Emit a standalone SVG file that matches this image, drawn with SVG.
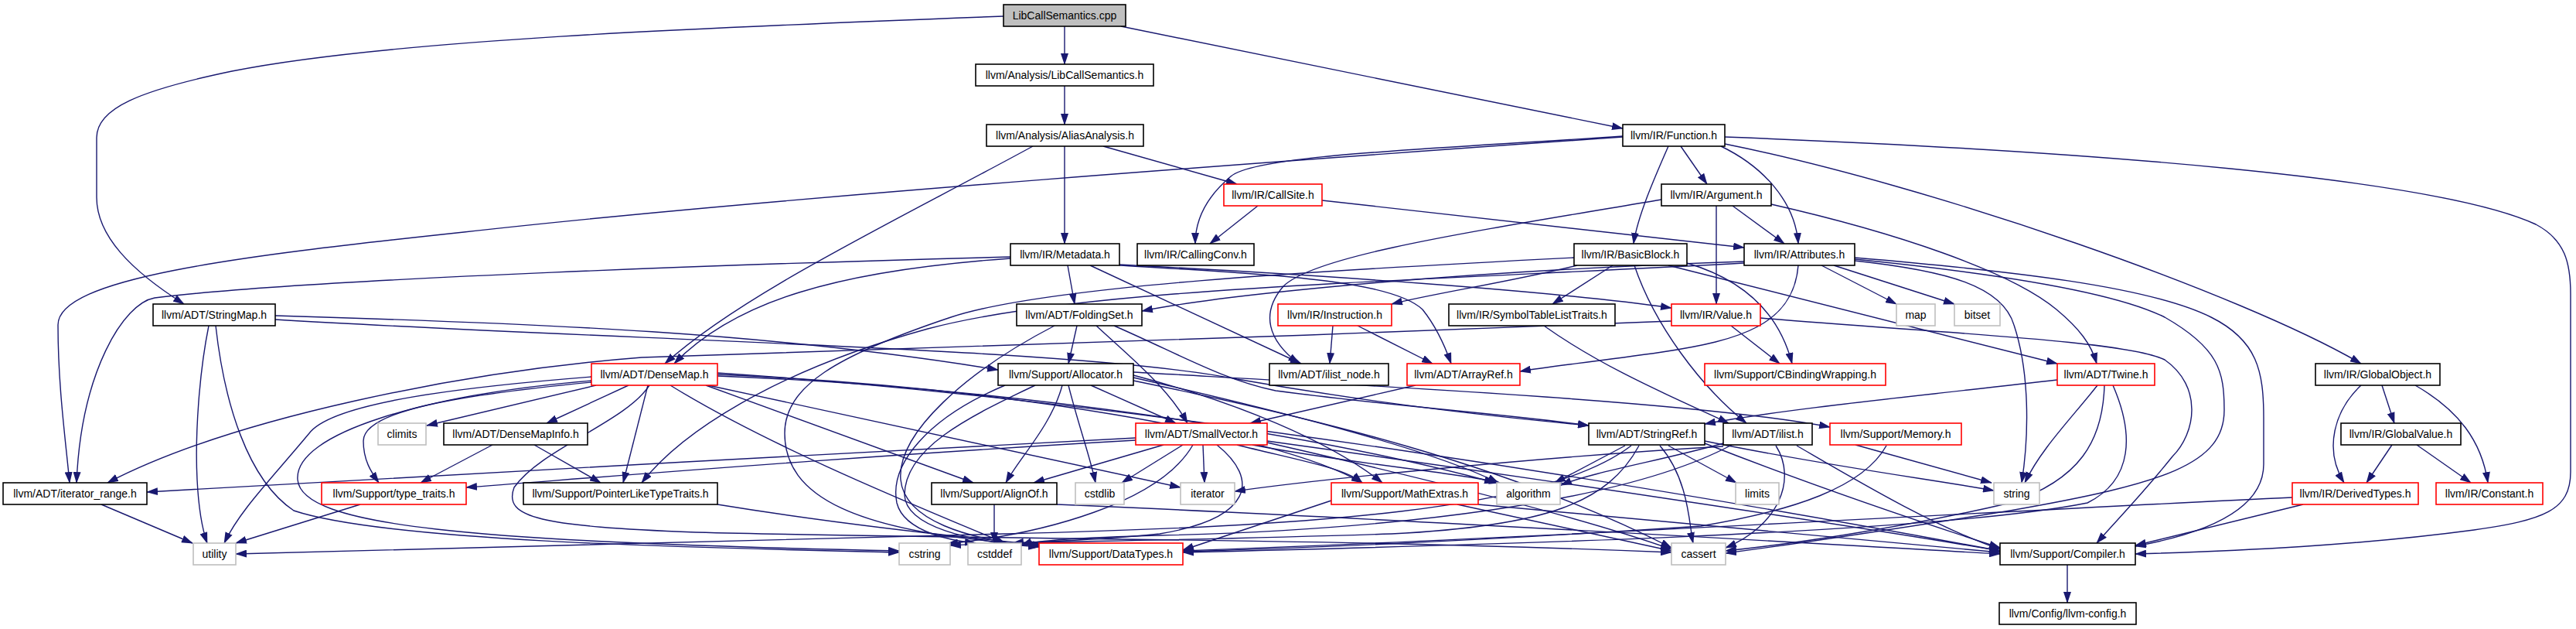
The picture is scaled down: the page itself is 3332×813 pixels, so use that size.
<svg xmlns="http://www.w3.org/2000/svg" width="3332" height="813" viewBox="0 0 3332 813">
<style>
.n rect{fill:#fff;stroke:#000;stroke-width:1.6}
.n.r rect{stroke:#ff0000}
.n.g rect{stroke:#bfbfbf}
.n.root rect{fill:#bfbfbf}
.n text{font-family:"Liberation Sans",Arial,sans-serif;font-size:14px;text-anchor:middle;fill:#000}
.e path{fill:none;stroke:#191970;stroke-width:1.4;marker-end:url(#a)}
</style>
<defs>
<marker id="a" markerWidth="15" markerHeight="10" refX="14" refY="5" orient="auto" markerUnits="userSpaceOnUse"><path d="M0,0 L15,5 L0,10 z" fill="#191970"/></marker>
</defs>
<rect width="3332" height="813" fill="#fff"/>
<g id="edges" class="e">
<path d="M1377,34 L1377,83"/>
<path d="M1298,21 C900,36 500,52 300,92 C180,117 125,140 125,178 L125,255 C125,305 170,350 238,393"/>
<path d="M1450,34 L2099,166"/>
<path d="M1377,111 L1377,161"/>
<path d="M1336,189 C1150,290 960,380 860,470"/>
<path d="M1377,189 L1377,315"/>
<path d="M1427,189 L1600,238"/>
<path d="M2099,177 C1700,205 1000,255 600,300 C300,332 75,360 75,420 C75,500 85,570 90,624"/>
<path d="M2099,176 C1850,193 1625,200 1592,228 C1560,255 1546,285 1546,315"/>
<path d="M2174,189 L2208,238"/>
<path d="M2158,189 C2140,230 2118,280 2113,315"/>
<path d="M2226,189 C2280,215 2322,260 2326,315"/>
<path d="M2231,186 C2500,240 2900,380 3054,470"/>
<path d="M2231,177 C2700,195 3150,230 3280,290 C3318,310 3325,340 3325,380 L3325,610 C3325,660 3290,672 3200,685 C3050,705 2900,712 2762,716"/>
<path d="M356,408 C700,418 1000,430 1291,478"/>
<path d="M356,413 C800,440 1400,450 1600,490 C1800,525 1950,540 2055,550"/>
<path d="M270,421 C258,480 252,560 255,620 C257,660 262,685 268,702"/>
<path d="M279,421 C290,520 320,620 380,660 C500,700 900,708 1163,714"/>
<path d="M1627,266 L1565,315"/>
<path d="M1710,259 L2256,320"/>
<path d="M2220,266 L2220,393"/>
<path d="M2241,266 L2308,315"/>
<path d="M2291,264 C2450,300 2600,350 2660,400 C2690,425 2705,445 2712,470"/>
<path d="M2149,258 C1900,300 1700,330 1660,370 C1630,405 1640,440 1680,470"/>
<path d="M1381,343 L1390,393"/>
<path d="M1307,334 C1080,350 950,390 872,470"/>
<path d="M1307,332 C1000,340 400,360 200,385 C160,392 105,480 99,624"/>
<path d="M1410,343 L1683,470"/>
<path d="M1448,342 C1700,355 2000,375 2162,398"/>
<path d="M1448,343 C1650,355 1800,362 1840,400 C1860,425 1870,450 1877,470"/>
<path d="M2040,343 C1950,365 1850,380 1800,393"/>
<path d="M2086,343 L2008,393"/>
<path d="M2114,343 C2140,420 2200,500 2259,547"/>
<path d="M2158,343 L2661,470"/>
<path d="M2182,340 C2250,360 2300,400 2318,470"/>
<path d="M2036,333 C1700,350 1350,370 1230,410 C1080,460 1015,500 1015,560 C1015,640 1100,690 1350,705"/>
<path d="M2356,343 L2453,393"/>
<path d="M2372,343 L2528,393"/>
<path d="M2256,338 C1900,350 1600,378 1477,402"/>
<path d="M2326,343 C2320,420 2250,440 2150,455 C2060,468 2000,474 1966,480"/>
<path d="M2256,340 C1800,365 1400,372 1200,425 C1000,480 880,560 830,624"/>
<path d="M2399,333 C2600,350 2780,370 2860,410 C2920,440 2928,480 2928,540 L2928,600 C2928,660 2850,690 2762,706"/>
<path d="M2399,335 C2600,355 2740,380 2800,410 C2870,450 2877,480 2877,530 C2877,600 2800,625 2600,660 C2400,692 2300,706 2232,715"/>
<path d="M2399,337 C2520,350 2590,370 2605,420 C2625,480 2625,560 2615,624"/>
<path d="M2239,421 L2302,470"/>
<path d="M2162,415 C1700,435 1000,455 830,462 C600,480 300,540 139,624"/>
<path d="M2277,411 C2500,430 2750,440 2800,465 C2850,500 2840,560 2810,590 C2770,640 2740,670 2712,702"/>
<path d="M1393,421 L1382,470"/>
<path d="M1418,421 C1460,460 1510,500 1536,547"/>
<path d="M1441,421 C1530,460 1580,490 1650,505 C1800,525 1950,535 2055,550"/>
<path d="M1364,421 C1250,480 1160,560 1165,620 C1170,672 1250,698 1345,706"/>
<path d="M1724,421 L1720,470"/>
<path d="M1756,421 L1853,470"/>
<path d="M1997,421 C2080,480 2180,520 2236,547"/>
<path d="M3081,498 L3097,547"/>
<path d="M3054,498 C3020,530 3005,580 3032,624"/>
<path d="M3124,498 C3180,530 3210,570 3218,624"/>
<path d="M3094,575 L3061,624"/>
<path d="M3126,575 L3196,624"/>
<path d="M2965,643 C2600,660 2000,695 1530,712"/>
<path d="M2979,652 L2762,705"/>
<path d="M765,487 C600,500 430,520 400,560 C350,620 310,660 290,702"/>
<path d="M765,492 C550,510 380,560 385,620 C390,680 600,700 1163,712"/>
<path d="M765,494 C600,510 470,530 470,570 C470,595 480,610 490,624"/>
<path d="M771,498 L552,550"/>
<path d="M813,498 L707,547"/>
<path d="M838,498 L806,624"/>
<path d="M840,498 C810,545 700,580 665,630 C650,670 700,680 900,688 C1300,698 1700,695 2162,714"/>
<path d="M913,498 L1259,624"/>
<path d="M916,498 L1527,630"/>
<path d="M928,486 C1300,500 1700,560 1934,624"/>
<path d="M928,484 C1300,500 1650,560 1762,624"/>
<path d="M928,482 C1500,520 2200,640 2587,712"/>
<path d="M867,498 C1000,580 1200,660 1300,702"/>
<path d="M1411,498 L1521,547"/>
<path d="M1374,498 C1360,550 1320,590 1301,624"/>
<path d="M1382,498 C1395,550 1410,590 1417,624"/>
<path d="M1339,498 C1250,540 1170,580 1170,640 C1172,680 1250,700 1344,707"/>
<path d="M1466,485 C1600,520 1720,570 1788,624"/>
<path d="M1466,481 C1800,500 2200,520 2367,552"/>
<path d="M1466,488 C1650,530 1850,580 1938,624"/>
<path d="M1466,492 C1700,540 1950,600 2162,708"/>
<path d="M1300,498 C1200,540 1150,600 1160,650 C1170,690 1240,700 1262,702"/>
<path d="M1831,498 L1617,547"/>
<path d="M1469,566 C1100,585 500,618 190,636"/>
<path d="M1469,569 C1100,590 800,615 603,630"/>
<path d="M1505,575 L1337,624"/>
<path d="M1530,575 L1451,624"/>
<path d="M1556,575 L1558,624"/>
<path d="M1543,575 C1500,650 1350,690 1225,703"/>
<path d="M1574,575 C1630,620 1620,670 1500,690 C1400,700 1330,700 1310,702"/>
<path d="M1600,575 C1680,595 1740,605 1762,624"/>
<path d="M1620,575 C1750,600 1880,610 1940,624"/>
<path d="M1639,572 C1850,620 2050,670 2162,710"/>
<path d="M1639,570 C2000,620 2400,680 2587,712"/>
<path d="M2102,576 L2011,624"/>
<path d="M2158,576 L2246,624"/>
<path d="M2147,576 C2185,620 2185,680 2190,702"/>
<path d="M2120,576 C2080,650 2000,680 1800,690 C1500,700 1300,700 1229,705"/>
<path d="M2110,576 C2000,660 1700,680 1300,690 C900,698 500,710 305,716"/>
<path d="M2205,570 C2350,600 2500,620 2579,634"/>
<path d="M2205,573 C2350,630 2500,680 2587,708"/>
<path d="M2229,573 C2150,595 2060,610 2019,627"/>
<path d="M2229,577 C2000,590 1700,620 1597,635"/>
<path d="M2297,576 C2325,620 2300,680 2232,708"/>
<path d="M2324,576 C2400,620 2500,680 2587,710"/>
<path d="M2240,575 C2100,650 1800,685 1500,692 C1400,695 1340,698 1321,705"/>
<path d="M2400,575 L2576,624"/>
<path d="M2440,576 C2410,630 2320,660 2200,680 C1900,700 1700,708 1530,713"/>
<path d="M1912,652 C2200,680 2450,700 2587,714"/>
<path d="M1722,647 L1530,711"/>
<path d="M1885,652 L2162,712"/>
<path d="M1286,652 L1286,702"/>
<path d="M1367,652 C1800,670 2300,700 2587,716"/>
<path d="M928,652 C1100,680 1250,695 1344,704"/>
<path d="M466,652 L305,702"/>
<path d="M637,575 L544,624"/>
<path d="M691,575 L777,624"/>
<path d="M131,652 L249,702"/>
<path d="M2661,491 C2450,515 2300,530 2205,548"/>
<path d="M2713,498 C2680,540 2640,580 2619,624"/>
<path d="M2722,498 C2720,570 2690,620 2600,650 C2450,685 2300,705 2232,712"/>
<path d="M2733,498 C2760,560 2760,620 2700,650 C2500,690 1900,705 1530,714"/>
<path d="M2674,730 L2674,779"/>
</g>
<g id="node_cpp" class="n root"><rect x="1298" y="6" width="158" height="28"/><text x="1377" y="25">LibCallSemantics.cpp</text></g>
<g id="node_lcs" class="n"><rect x="1262" y="83" width="230" height="28"/><text x="1377" y="102">llvm/Analysis/LibCallSemantics.h</text></g>
<g id="node_aa" class="n"><rect x="1276" y="161" width="203" height="28"/><text x="1377.5" y="180">llvm/Analysis/AliasAnalysis.h</text></g>
<g id="node_func" class="n"><rect x="2099" y="161" width="132" height="28"/><text x="2165" y="180">llvm/IR/Function.h</text></g>
<g id="node_callsite" class="n r"><rect x="1583" y="238" width="127" height="28"/><text x="1646.5" y="257">llvm/IR/CallSite.h</text></g>
<g id="node_arg" class="n"><rect x="2149" y="238" width="142" height="28"/><text x="2220" y="257">llvm/IR/Argument.h</text></g>
<g id="node_meta" class="n"><rect x="1307" y="315" width="141" height="28"/><text x="1377.5" y="334">llvm/IR/Metadata.h</text></g>
<g id="node_cc" class="n"><rect x="1471" y="315" width="151" height="28"/><text x="1546.5" y="334">llvm/IR/CallingConv.h</text></g>
<g id="node_bb" class="n"><rect x="2036" y="315" width="146" height="28"/><text x="2109" y="334">llvm/IR/BasicBlock.h</text></g>
<g id="node_attr" class="n"><rect x="2256" y="315" width="143" height="28"/><text x="2327.5" y="334">llvm/IR/Attributes.h</text></g>
<g id="node_smap" class="n"><rect x="198" y="393" width="158" height="28"/><text x="277" y="412">llvm/ADT/StringMap.h</text></g>
<g id="node_fs" class="n"><rect x="1315" y="393" width="162" height="28"/><text x="1396" y="412">llvm/ADT/FoldingSet.h</text></g>
<g id="node_instr" class="n r"><rect x="1653" y="393" width="147" height="28"/><text x="1726.5" y="412">llvm/IR/Instruction.h</text></g>
<g id="node_stlt" class="n"><rect x="1874" y="393" width="215" height="28"/><text x="1981.5" y="412">llvm/IR/SymbolTableListTraits.h</text></g>
<g id="node_value" class="n r"><rect x="2162" y="393" width="115" height="28"/><text x="2219.5" y="412">llvm/IR/Value.h</text></g>
<g id="node_map" class="n g"><rect x="2453" y="393" width="50" height="28"/><text x="2478" y="412">map</text></g>
<g id="node_bitset" class="n g"><rect x="2528" y="393" width="59" height="28"/><text x="2557.5" y="412">bitset</text></g>
<g id="node_dm" class="n r"><rect x="765" y="470" width="163" height="28"/><text x="846.5" y="489">llvm/ADT/DenseMap.h</text></g>
<g id="node_alloc" class="n"><rect x="1291" y="470" width="175" height="28"/><text x="1378.5" y="489">llvm/Support/Allocator.h</text></g>
<g id="node_iln" class="n"><rect x="1642" y="470" width="154" height="28"/><text x="1719" y="489">llvm/ADT/ilist_node.h</text></g>
<g id="node_aref" class="n r"><rect x="1820" y="470" width="146" height="28"/><text x="1893" y="489">llvm/ADT/ArrayRef.h</text></g>
<g id="node_cbw" class="n r"><rect x="2205" y="470" width="234" height="28"/><text x="2322" y="489">llvm/Support/CBindingWrapping.h</text></g>
<g id="node_twine" class="n r"><rect x="2661" y="470" width="126" height="28"/><text x="2724" y="489">llvm/ADT/Twine.h</text></g>
<g id="node_gobj" class="n"><rect x="2995" y="470" width="161" height="28"/><text x="3075.5" y="489">llvm/IR/GlobalObject.h</text></g>
<g id="node_climits" class="n g"><rect x="489" y="547" width="62" height="28"/><text x="520" y="566">climits</text></g>
<g id="node_dmi" class="n"><rect x="574" y="547" width="186" height="28"/><text x="667" y="566">llvm/ADT/DenseMapInfo.h</text></g>
<g id="node_sv" class="n r"><rect x="1469" y="547" width="170" height="28"/><text x="1554" y="566">llvm/ADT/SmallVector.h</text></g>
<g id="node_sref" class="n"><rect x="2055" y="547" width="150" height="28"/><text x="2130" y="566">llvm/ADT/StringRef.h</text></g>
<g id="node_ilist" class="n"><rect x="2229" y="547" width="115" height="28"/><text x="2286.5" y="566">llvm/ADT/ilist.h</text></g>
<g id="node_mem" class="n r"><rect x="2367" y="547" width="170" height="28"/><text x="2452" y="566">llvm/Support/Memory.h</text></g>
<g id="node_gval" class="n"><rect x="3028" y="547" width="155" height="28"/><text x="3105.5" y="566">llvm/IR/GlobalValue.h</text></g>
<g id="node_ir" class="n"><rect x="4" y="624" width="186" height="28"/><text x="97" y="643">llvm/ADT/iterator_range.h</text></g>
<g id="node_tt" class="n r"><rect x="416" y="624" width="187" height="28"/><text x="509.5" y="643">llvm/Support/type_traits.h</text></g>
<g id="node_pltt" class="n"><rect x="677" y="624" width="251" height="28"/><text x="802.5" y="643">llvm/Support/PointerLikeTypeTraits.h</text></g>
<g id="node_align" class="n"><rect x="1205" y="624" width="162" height="28"/><text x="1286" y="643">llvm/Support/AlignOf.h</text></g>
<g id="node_cstdlib" class="n g"><rect x="1391" y="624" width="63" height="28"/><text x="1422.5" y="643">cstdlib</text></g>
<g id="node_iter" class="n g"><rect x="1527" y="624" width="70" height="28"/><text x="1562" y="643">iterator</text></g>
<g id="node_math" class="n r"><rect x="1722" y="624" width="190" height="28"/><text x="1817" y="643">llvm/Support/MathExtras.h</text></g>
<g id="node_algo" class="n g"><rect x="1936" y="624" width="82" height="28"/><text x="1977" y="643">algorithm</text></g>
<g id="node_limits" class="n g"><rect x="2245" y="624" width="56" height="28"/><text x="2273" y="643">limits</text></g>
<g id="node_string" class="n g"><rect x="2579" y="624" width="59" height="28"/><text x="2608.5" y="643">string</text></g>
<g id="node_dt" class="n r"><rect x="2965" y="624" width="163" height="28"/><text x="3046.5" y="643">llvm/IR/DerivedTypes.h</text></g>
<g id="node_const" class="n r"><rect x="3151" y="624" width="138" height="28"/><text x="3220" y="643">llvm/IR/Constant.h</text></g>
<g id="node_util" class="n g"><rect x="250" y="702" width="55" height="28"/><text x="277.5" y="721">utility</text></g>
<g id="node_cstring" class="n g"><rect x="1163" y="702" width="66" height="28"/><text x="1196" y="721">cstring</text></g>
<g id="node_cstddef" class="n g"><rect x="1252" y="702" width="69" height="28"/><text x="1286.5" y="721">cstddef</text></g>
<g id="node_dtypes" class="n r"><rect x="1344" y="702" width="186" height="28"/><text x="1437" y="721">llvm/Support/DataTypes.h</text></g>
<g id="node_cassert" class="n g"><rect x="2162" y="702" width="70" height="28"/><text x="2197" y="721">cassert</text></g>
<g id="node_comp" class="n"><rect x="2587" y="702" width="175" height="28"/><text x="2674.5" y="721">llvm/Support/Compiler.h</text></g>
<g id="node_cfg" class="n"><rect x="2586" y="779" width="177" height="28"/><text x="2674.5" y="798">llvm/Config/llvm-config.h</text></g>
</svg>
